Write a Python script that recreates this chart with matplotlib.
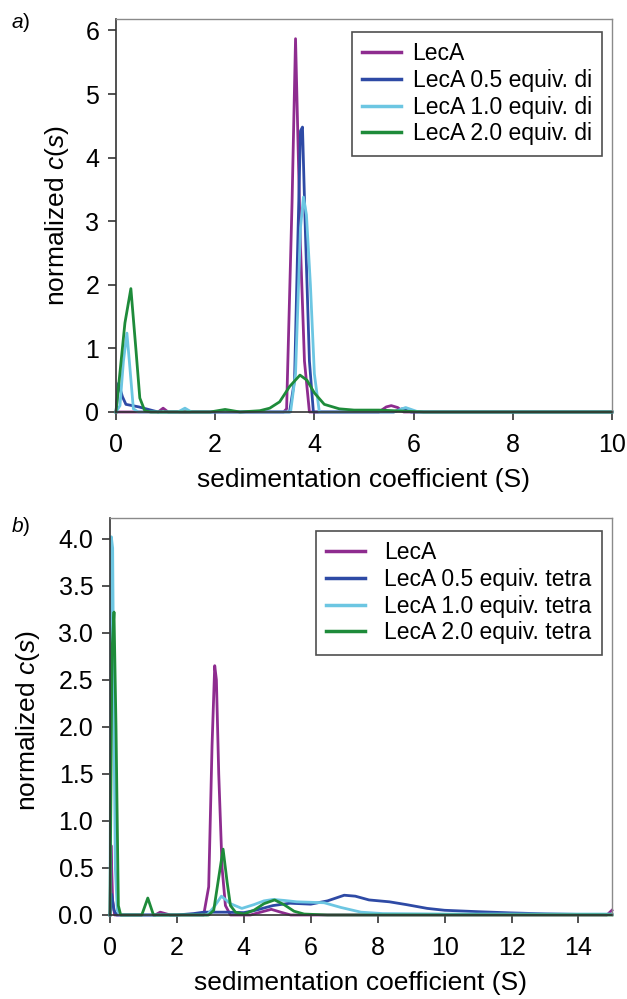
import matplotlib
matplotlib.use("Agg")
import matplotlib.pyplot as plt

plt.rcParams["font.family"] = ["Liberation Sans", "DejaVu Sans"]
plt.rcParams["mathtext.fontset"] = "custom"
plt.rcParams["mathtext.rm"] = "Liberation Sans"
plt.rcParams["mathtext.it"] = "Liberation Sans:italic"

# colours of the four samples
c_leca = "#8E2C8F"
c_05 = "#2E4AA5"
c_10 = "#6CC6E2"
c_20 = "#1E8B3A"

# ---- panel a: LecA + divalent ligand ----
a_labels = ["LecA", "LecA 0.5 equiv. di", "LecA 1.0 equiv. di", "LecA 2.0 equiv. di"]

a_leca_x = [0, 0.85, 0.95, 1.05, 3.38, 3.44, 3.55, 3.62, 3.72, 3.80, 3.90, 5.30, 5.45, 5.55, 5.68, 5.80, 10]
a_leca_y = [0, 0, 0.06, 0, 0, 0.05, 3.3, 5.87, 2.6, 0.8, 0, 0, 0.08, 0.10, 0.07, 0, 0]

a_di05_x = [0, 0.05, 0.13, 0.2, 0.46, 0.75, 0.85, 3.50, 3.60, 3.66, 3.72, 3.76, 3.82, 3.90, 3.98, 5.60, 5.77, 5.95, 10]
a_di05_y = [0, 0.45, 0.24, 0.12, 0.08, 0.02, 0, 0, 0.5, 2.5, 4.42, 4.48, 2.8, 0.8, 0, 0, 0.05, 0, 0]

a_di10_x = [0, 0.08, 0.15, 0.22, 0.28, 0.35, 0.45, 1.25, 1.39, 1.52, 3.52, 3.62, 3.72, 3.78, 3.84, 3.92, 4.00, 4.10, 5.60, 5.84, 6.10, 10]
a_di10_y = [0, 0.1, 0.8, 1.24, 0.7, 0.05, 0, 0, 0.06, 0, 0, 0.6, 2.9, 3.38, 3.1, 2.0, 0.6, 0, 0, 0.07, 0, 0]

a_di20_x = [0, 0.18, 0.30, 0.40, 0.48, 0.58, 0.7, 1.9, 2.2, 2.5, 2.9, 3.1, 3.3, 3.5, 3.71, 3.85, 4.0, 4.2, 4.5, 4.8, 5.3, 5.6, 6.2, 10]
a_di20_y = [0, 1.4, 1.94, 1.0, 0.22, 0.02, 0, 0, 0.04, 0, 0.02, 0.06, 0.16, 0.40, 0.58, 0.50, 0.30, 0.12, 0.05, 0.03, 0.03, 0.02, 0, 0]

# ---- panel b: LecA + tetravalent ligand ----
b_labels = ["LecA", "LecA 0.5 equiv. tetra", "LecA 1.0 equiv. tetra", "LecA 2.0 equiv. tetra"]

b_leca_x = [0, 0.03, 0.08, 0.14, 1.35, 1.5, 1.8, 2.80, 2.95, 3.05, 3.13, 3.18, 3.25, 3.35, 3.45, 3.60, 4.2, 4.5, 4.82, 5.1, 5.4, 14.85, 15]
b_leca_y = [0, 0.74, 0.15, 0, 0, 0.03, 0, 0, 0.3, 1.8, 2.65, 2.5, 1.5, 0.5, 0.1, 0, 0, 0.03, 0.06, 0.03, 0, 0, 0.05]

b_te05_x = [0, 0.05, 0.12, 0.2, 2.0, 2.5, 2.8, 3.5, 4.0, 4.35, 4.87, 5.38, 6.0, 6.5, 7.0, 7.33, 7.74, 8.35, 8.86, 9.48, 10.0, 11.0, 12.0, 13.0, 14.0, 15]
b_te05_y = [0, 0.22, 0.05, 0, 0, 0.015, 0.03, 0.03, 0.025, 0.05, 0.1, 0.125, 0.115, 0.15, 0.21, 0.2, 0.16, 0.14, 0.11, 0.07, 0.05, 0.035, 0.022, 0.012, 0.006, 0.003]

b_te10_x = [0, 0.04, 0.08, 0.12, 0.16, 0.22, 0.3, 2.9, 3.1, 3.33, 3.6, 3.94, 4.3, 4.6, 4.87, 5.2, 5.58, 6.0, 6.4, 6.9, 7.5, 8.15, 10, 15]
b_te10_y = [0, 4.02, 3.9, 2.0, 0.5, 0.05, 0, 0, 0.08, 0.2, 0.12, 0.07, 0.11, 0.15, 0.165, 0.155, 0.14, 0.135, 0.13, 0.08, 0.03, 0.015, 0.01, 0.01]

b_te20_x = [0, 0.06, 0.12, 0.18, 0.25, 0.32, 0.95, 1.13, 1.3, 2.95, 3.1, 3.25, 3.38, 3.5, 3.6, 3.75, 4.0, 4.3, 4.6, 4.92, 5.2, 5.5, 5.8, 6.5, 15]
b_te20_y = [0, 2.8, 3.22, 2.0, 0.1, 0, 0, 0.18, 0, 0, 0.05, 0.4, 0.70, 0.35, 0.1, 0.03, 0.01, 0.05, 0.12, 0.16, 0.11, 0.04, 0.01, 0.0, 0.0]

a_xticks = [0, 2, 4, 6, 8, 10]
a_yticks = [0, 1, 2, 3, 4, 5, 6]
b_xticks = [0, 2, 4, 6, 8, 10, 12, 14]
b_yticks = [0.0, 0.5, 1.0, 1.5, 2.0, 2.5, 3.0, 3.5, 4.0]
b_yticklabels = ["0.0", "0.5", "1.0", "1.5", "2.0", "2.5", "3.0", "3.5", "4.0"]

fig = plt.figure(figsize=(6.27, 9.99), dpi=100)
ax_a = fig.add_axes([0.185, 0.5876, 0.791, 0.3934])
ax_b = fig.add_axes([0.1754, 0.0841, 0.8006, 0.3974])


def style_axes(ax):
    for side in ["left", "bottom"]:
        ax.spines[side].set_color("#333333")
        ax.spines[side].set_linewidth(1.2)
    for side in ["top", "right"]:
        ax.spines[side].set_color("#8a8a8a")
        ax.spines[side].set_linewidth(1.0)
    ax.tick_params(direction="out", length=6, width=1.2, color="#333333",
                   labelsize=18)
    ax.tick_params(axis="y", pad=6)
    ax.tick_params(axis="x", pad=9)
    ax.set_xlabel("sedimentation coefficient (S)", fontsize=19, labelpad=8)
    ax.set_ylabel(r"normalized $c$($s$)", fontsize=19)


def add_legend(ax, textpad):
    leg = ax.legend(loc="upper right", bbox_to_anchor=(0.98, 0.967), fontsize=16.5,
                    frameon=True, fancybox=False, edgecolor="#222222",
                    handlelength=1.7, handletextpad=textpad, labelspacing=0.16,
                    borderaxespad=0, borderpad=0.45)
    leg.get_frame().set_linewidth(1.2)
    for line in leg.get_lines():
        line.set_linewidth(2.5)


lw = 2.0
series_a = [(a_leca_x, a_leca_y, c_leca), (a_di05_x, a_di05_y, c_05),
            (a_di10_x, a_di10_y, c_10), (a_di20_x, a_di20_y, c_20)]
for (xs, ys, col), lab in zip(series_a, a_labels):
    ax_a.plot(xs, ys, color=col, lw=lw, label=lab, clip_on=False)
ax_a.set_xlim(0, 10)
ax_a.set_ylim(0, 6.18)
ax_a.set_xticks(a_xticks)
ax_a.set_yticks(a_yticks)
style_axes(ax_a)
ax_a.yaxis.set_label_coords(-0.09, 0.5)
add_legend(ax_a, 0.5)

series_b = [(b_leca_x, b_leca_y, c_leca), (b_te05_x, b_te05_y, c_05),
            (b_te10_x, b_te10_y, c_10), (b_te20_x, b_te20_y, c_20)]
for (xs, ys, col), lab in zip(series_b, b_labels):
    ax_b.plot(xs, ys, color=col, lw=lw, label=lab, clip_on=False)
ax_b.set_xlim(0, 15)
ax_b.set_ylim(0, 4.22)
ax_b.set_xticks(b_xticks)
ax_b.set_yticks(b_yticks)
ax_b.set_yticklabels(b_yticklabels)
style_axes(ax_b)
ax_b.yaxis.set_label_coords(-0.135, 0.49)
add_legend(ax_b, 0.85)

# panel letters
fig.text(12 / 627, 1 - 28 / 999, "a", fontsize=15, style="italic", va="baseline")
fig.text(23 / 627, 1 - 28 / 999, ")", fontsize=15, va="baseline")
fig.text(12 / 627, 1 - 532 / 999, "b", fontsize=15, style="italic", va="baseline")
fig.text(23 / 627, 1 - 532 / 999, ")", fontsize=15, va="baseline")

fig.savefig("out.png", dpi=100)
